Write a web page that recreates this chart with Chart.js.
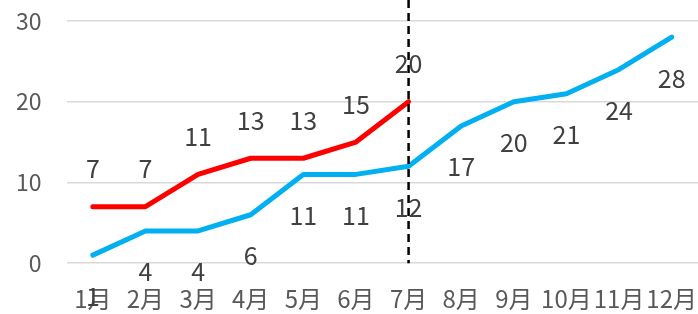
<!DOCTYPE html>
<html>
<head>
<meta charset="utf-8">
<script src="https://cdn.jsdelivr.net/npm/chart.js@4/dist/chart.umd.min.js"></script>
<style>
  html, body { margin: 0; padding: 0; background: #fff; }
  #wrap { width: 698px; height: 314px; }
</style>
</head>
<body>
<div id="wrap"><canvas id="chart"></canvas></div>
<script>
const months = ['1月', '2月', '3月', '4月', '5月', '6月', '7月', '8月', '9月', '10月', '11月', '12月'];
const redValues = [7, 7, 11, 13, 13, 15, 20, null, null, null, null, null];
const blueValues = [1, 4, 4, 6, 11, 11, 12, 17, 20, 21, 24, 28];
const yTicks = [0, 10, 20, 30];
const markerMonth = '7月';

const fontFamily = '"Noto Sans CJK SC", "Noto Sans", sans-serif';

// value labels: red above the line, blue below it
const valueLabels = {
  id: 'valueLabels',
  afterDatasetsDraw(chart) {
    const ctx = chart.ctx;
    ctx.save();
    ctx.font = '25px ' + fontFamily;
    ctx.fillStyle = '#404040';
    ctx.textAlign = 'center';
    ctx.textBaseline = 'middle';
    chart.data.datasets.forEach((ds, i) => {
      const meta = chart.getDatasetMeta(i);
      meta.data.forEach((pt, j) => {
        const v = ds.data[j];
        if (v === null) return;
        ctx.fillText(String(v), pt.x, pt.y + ds.labelOffset);
      });
    });
    ctx.restore();
  }
};

// dashed vertical marker line
const markerLine = {
  id: 'markerLine',
  afterDatasetsDraw(chart) {
    const ctx = chart.ctx;
    const x = chart.scales.x.getPixelForValue(months.indexOf(markerMonth));
    const bottom = chart.scales.y.getPixelForValue(0);
    ctx.save();
    ctx.strokeStyle = '#000';
    ctx.lineWidth = 2.5;
    ctx.setLineDash([8, 5]);
    ctx.beginPath();
    ctx.moveTo(x, 0);
    ctx.lineTo(x, bottom);
    ctx.stroke();
    ctx.restore();
  }
};

new Chart(document.getElementById('chart'), {
  type: 'line',
  data: {
    labels: months,
    datasets: [
      {
        label: 'red',
        data: redValues,
        borderColor: '#FF0000',
        borderWidth: 5,
        pointRadius: 0,
        borderCapStyle: 'round',
        borderJoinStyle: 'round',
        labelOffset: -38,
      },
      {
        label: 'blue',
        data: blueValues,
        borderColor: '#00B0F0',
        borderWidth: 5,
        pointRadius: 0,
        borderCapStyle: 'round',
        borderJoinStyle: 'round',
        labelOffset: 41,
      },
    ],
  },
  options: {
    responsive: true,
    maintainAspectRatio: false,
    animation: false,
    layout: { autoPadding: false, padding: { top: 21, right: 0, left: -9, bottom: -12 } },
    plugins: {
      legend: { display: false },
      tooltip: { enabled: false },
    },
    scales: {
      x: {
        offset: true,
        afterFit(scale) {
          scale.paddingLeft = 0;
          scale.paddingRight = 0;
        },
        grid: { display: false },
        border: { display: false },
        ticks: {
          color: '#595959',
          font: { size: 24, family: fontFamily },
          maxRotation: 0,
          autoSkip: false,
          padding: 13,
        },
      },
      y: {
        min: 0,
        max: 30,
        afterBuildTicks(axis) {
          axis.ticks = yTicks.map(v => ({ value: v }));
        },
        afterFit(scale) {
          scale.paddingTop = 0;
          scale.paddingBottom = 0;
        },
        grid: { color: '#D9D9D9', lineWidth: 1.5, drawTicks: false },
        border: { display: false },
        ticks: {
          color: '#595959',
          font: { size: 23, family: fontFamily },
          padding: 25,
        },
      },
    },
  },
  plugins: [markerLine, valueLabels],
});
</script>
</body>
</html>
